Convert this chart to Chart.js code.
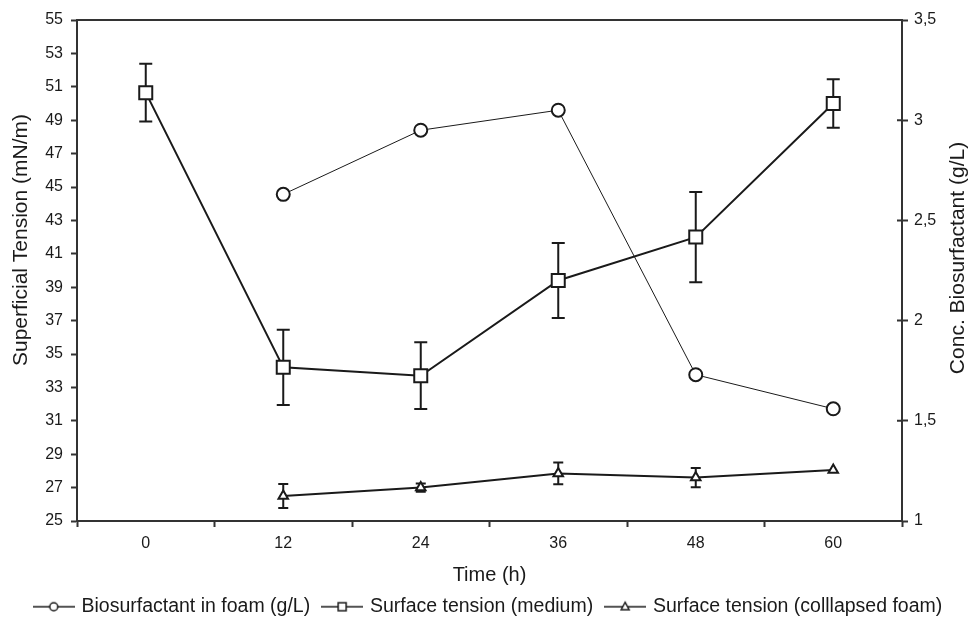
<!DOCTYPE html>
<html>
<head>
<meta charset="utf-8">
<script src="https://cdn.jsdelivr.net/npm/chart.js@4.4.1/dist/chart.umd.min.js"></script>
<style>
  html, body { margin: 0; padding: 0; background: #fff; }
</style>
</head>
<body>
<canvas id="chart" width="978" height="619"></canvas>
<script>
// time points (h)
var hours = ['0', '12', '24', '36', '48', '60'];

// biosurfactant in foam, g/L (right axis)
var foamConc = [null, 2.63, 2.95, 3.05, 1.73, 1.56];

// surface tension of the medium, mN/m (left axis) and its error
var mediumTension = [50.65, 34.2, 33.7, 39.4, 42.0, 50.0];
var mediumErr = [1.73, 2.25, 2.0, 2.25, 2.7, 1.45];

// surface tension of the collapsed foam, mN/m (left axis) and its error
var foamTension = [null, 26.5, 27.0, 27.85, 27.6, 28.05];
var foamErr = [null, 0.72, 0.25, 0.65, 0.58, 0];

var ink = '#1a1a1a';
var axisInk = '#333';
var fontFamily = "'Liberation Sans', Arial, Helvetica, sans-serif";

// small legend icon: line with the marker in the middle
function makeIcon(style) {
    var c = document.createElement('canvas');
    c.width = 42;
    c.height = 14;
    var g = c.getContext('2d');
    g.strokeStyle = ink;
    g.lineWidth = 1.5;
    g.beginPath();
    g.moveTo(0, 7);
    g.lineTo(42, 7);
    g.stroke();
    g.fillStyle = '#fff';
    g.beginPath();
    if (style === 'circle') {
        g.arc(21, 7, 4, 0, Math.PI * 2);
    } else if (style === 'rect') {
        g.rect(17, 3, 8, 8);
    } else {
        g.moveTo(21, 2.5);
        g.lineTo(25, 10);
        g.lineTo(17, 10);
        g.closePath();
    }
    g.fill();
    g.stroke();
    return c;
}

var errorBars = {
    id: 'errorBars',
    beforeDatasetsDraw: function(chart) {
        var ctx = chart.ctx;
        chart.data.datasets.forEach(function(ds, i) {
            if (!ds.errors) return;
            var meta = chart.getDatasetMeta(i);
            var yScale = chart.scales[ds.yAxisID];
            ctx.save();
            ctx.strokeStyle = ink;
            ctx.lineWidth = 2;
            meta.data.forEach(function(pt, j) {
                var v = ds.data[j], e = ds.errors[j];
                if (v == null || !e) return;
                var yTop = yScale.getPixelForValue(v + e);
                var yBot = yScale.getPixelForValue(v - e);
                var h = ds.capHalf;
                ctx.beginPath();
                ctx.moveTo(pt.x, yTop);
                ctx.lineTo(pt.x, yBot);
                ctx.moveTo(pt.x - h, yTop);
                ctx.lineTo(pt.x + h, yTop);
                ctx.moveTo(pt.x - h, yBot);
                ctx.lineTo(pt.x + h, yBot);
                ctx.stroke();
            });
            ctx.restore();
        });
    },
    afterDraw: function(chart) {
        var ctx = chart.ctx;
        var area = chart.chartArea;
        var right = chart.scales.y1;
        ctx.save();
        // top frame line
        ctx.strokeStyle = axisInk;
        ctx.lineWidth = 2;
        ctx.beginPath();
        ctx.moveTo(area.left - 1, area.top);
        ctx.lineTo(area.right + 1, area.top);
        ctx.stroke();
        // right axis ticks cross the axis line
        ctx.beginPath();
        right.ticks.forEach(function(t) {
            var y = right.getPixelForValue(t.value);
            ctx.moveTo(area.right - 5, y);
            ctx.lineTo(area.right, y);
        });
        ctx.stroke();
        ctx.fillStyle = ink;
        ctx.font = '21px ' + fontFamily;
        ctx.textAlign = 'center';
        ctx.textBaseline = 'middle';
        // left axis title
        ctx.save();
        ctx.translate(21, 240);
        ctx.rotate(-Math.PI / 2);
        ctx.fillText('Superficial Tension (mN/m)', 0, 0);
        ctx.restore();
        // right axis title, reading bottom to top
        ctx.translate(958, 258);
        ctx.rotate(-Math.PI / 2);
        ctx.fillText('Conc. Biosurfactant (g/L)', 0, 0);
        ctx.restore();
    }
};

var ctx = document.getElementById('chart').getContext('2d');
var myChart = new Chart(ctx, {
    type: 'line',
    data: {
        labels: hours,
        datasets: [{
            label: 'Biosurfactant in foam (g/L)',
            data: foamConc,
            yAxisID: 'y1',
            borderColor: ink,
            borderWidth: 1,
            pointStyle: 'circle',
            pointRadius: 6.5,
            pointBorderWidth: 2,
            pointBackgroundColor: '#fff',
            pointBorderColor: ink,
            icon: makeIcon('circle')
        }, {
            label: 'Surface tension (medium)',
            data: mediumTension,
            errors: mediumErr,
            capHalf: 6.5,
            yAxisID: 'y',
            borderColor: ink,
            borderWidth: 2,
            pointStyle: 'rect',
            pointRadius: 9.2,
            pointBorderWidth: 2,
            pointBackgroundColor: '#fff',
            pointBorderColor: ink,
            icon: makeIcon('rect')
        }, {
            label: 'Surface tension (colllapsed foam)',
            data: foamTension,
            errors: foamErr,
            capHalf: 5,
            yAxisID: 'y',
            borderColor: ink,
            borderWidth: 2,
            pointStyle: 'triangle',
            pointRadius: 5.5,
            pointBorderWidth: 2,
            pointBackgroundColor: '#fff',
            pointBorderColor: ink,
            icon: makeIcon('triangle')
        }]
    },
    options: {
        responsive: false,
        animation: false,
        devicePixelRatio: 1,
        layout: { padding: { top: 20, left: 0, right: 0, bottom: 0 } },
        plugins: {
            tooltip: { enabled: false },
            legend: {
                position: 'bottom',
                maxHeight: 36,
                labels: {
                    color: ink,
                    font: { family: fontFamily, size: 19.5 },
                    usePointStyle: true,
                    pointStyleWidth: 36,
                    padding: 14,
                    generateLabels: function(chart) {
                        return chart.data.datasets.map(function(ds, i) {
                            return {
                                text: ds.label,
                                pointStyle: ds.icon,
                                fillStyle: '#fff',
                                strokeStyle: ink,
                                lineWidth: 0,
                                fontColor: ink,
                                datasetIndex: i
                            };
                        });
                    }
                }
            }
        },
        scales: {
            x: {
                type: 'category',
                offset: true,
                grid: {
                    offset: true,
                    drawOnChartArea: false,
                    tickLength: 6,
                    tickColor: axisInk,
                    tickWidth: 2
                },
                border: { color: axisInk, width: 2 },
                ticks: {
                    color: ink,
                    padding: 7,
                    font: { family: fontFamily, size: 16 }
                },
                title: {
                    display: true,
                    text: 'Time (h)',
                    color: ink,
                    font: { family: fontFamily, size: 20 },
                    padding: { top: 0, bottom: -4 }
                },
                afterFit: function(scale) { scale.height = 62; }
            },
            y: {
                position: 'left',
                min: 25,
                max: 55,
                ticks: {
                    stepSize: 2,
                    color: ink,
                    padding: 8,
                    font: { family: fontFamily, size: 16 }
                },
                grid: {
                    drawOnChartArea: false,
                    tickLength: 6,
                    tickColor: axisInk,
                    tickWidth: 2
                },
                border: { color: axisInk, width: 2 },
                afterFit: function(scale) { scale.width = 77; }
            },
            y1: {
                position: 'right',
                min: 1,
                max: 3.5,
                ticks: {
                    stepSize: 0.5,
                    color: ink,
                    padding: 6,
                    font: { family: fontFamily, size: 16 },
                    callback: function(v) { return String(v).replace('.', ','); }
                },
                grid: {
                    drawOnChartArea: false,
                    tickLength: 6,
                    tickColor: axisInk,
                    tickWidth: 2
                },
                border: { color: axisInk, width: 2 },
                afterFit: function(scale) { scale.width = 76; }
            }
        }
    },
    plugins: [errorBars]
});
</script>
</body>
</html>
